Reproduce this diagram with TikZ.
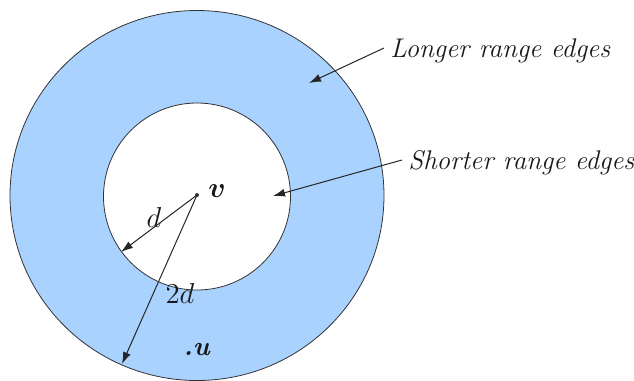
\documentclass[tikz,border=0pt]{standalone}
\definecolor{ringblue}{RGB}{169, 210, 255}
\usepackage{tikz}
\usetikzlibrary{arrows.meta, positioning, calc}
\usepackage{amsmath, amssymb, bm}

\begin{document}
\begin{tikzpicture}[x=0.5pt, y=-0.5pt,
    edge/.style={draw=black!85, line width=0.5pt, -{Latex[length=6pt, width=4pt]}},
    lbl/.style={font=\fontsize{13.5}{16}\selectfont, text=black!90, inner sep=1pt}]
  \useasboundingbox (0,0) rectangle (634,381);
  % the two ranges round v
  \coordinate (c) at (197,195.5);
  \fill[ringblue, even odd rule] (c) ellipse [x radius=93.5pt, y radius=92.5pt]
    (197,196.5) circle [radius=46.75pt];
  \draw[black!80, line width=0.4pt] (c) ellipse [x radius=93.5pt, y radius=92.5pt];
  \draw[black!80, line width=0.4pt] (197,196.5) circle [radius=46.75pt];
  % centre and points
  \node[circle, fill=black!80, inner sep=0pt, minimum size=2pt] (v) at (197,195) {};
  \node[lbl, anchor=west] (vlbl) at (206,191) {$\bm{v}$};
  \node[lbl] (ulbl) at (197,350) {\textbf{\textit{.u}}};
  \coordinate (dend) at (121,252);
  \coordinate (ddend) at (122,364);
  \draw[edge] (v.center) -- (dend);
  \draw[edge] (v.center) -- (ddend);
  \node[lbl] (dlbl) at (154,217) {$d$};
  \node[lbl] (ddlbl) at (180,293) {$2d$};
  % captions
  \node[lbl, anchor=west] (longer) at (388,51) {\textit{Longer range edges}};
  \node[lbl, anchor=west] (shorter) at (406,163) {\textit{Shorter range edges}};
  \coordinate (lend) at (309,83);
  \coordinate (send) at (273,196);
  \draw[edge] (longer.west) ++(-4,-3) coordinate (lstart) -- (lend);
  \draw[edge] (shorter.west) ++(-4,-3) coordinate (sstart) -- (send);
\end{tikzpicture}
\end{document}
